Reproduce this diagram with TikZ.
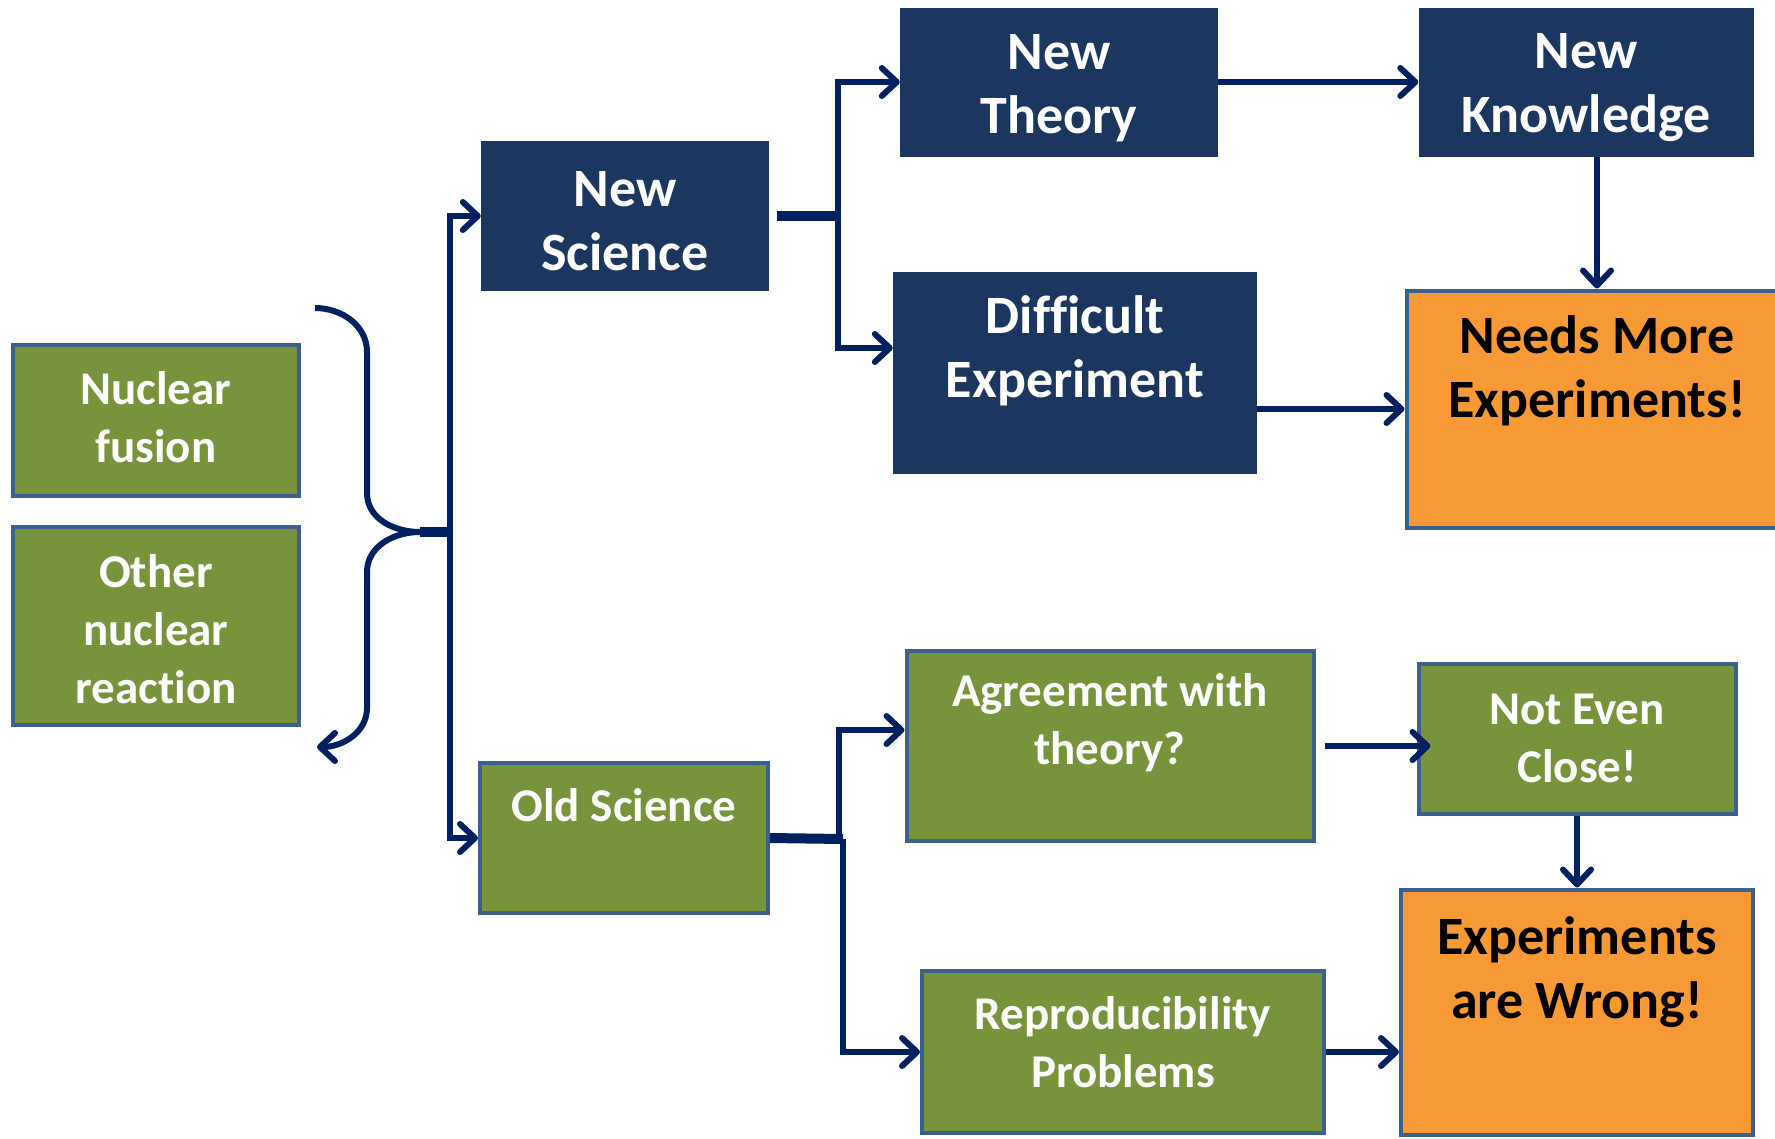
\documentclass[tikz,border=0pt]{standalone}
\usepackage{fontspec}
\setmainfont{Carlito}[Ligatures=NoCommon]
\usetikzlibrary{arrows.meta,positioning}
\definecolor{navy}{HTML}{1B375F}
\definecolor{leaf}{HTML}{77933C}
\definecolor{amber}{HTML}{F79934}
\definecolor{rim}{HTML}{3C5F8C}
\definecolor{ink}{HTML}{002060}
\newcommand{\bigtxt}{\fontsize{54}{64}\selectfont\bfseries}
\newcommand{\smalltxt}{\fontsize{47}{58}\selectfont\bfseries}

\begin{document}
\begin{tikzpicture}[x=1pt,y=-1pt,
navybox/.style={fill=navy,inner sep=0pt,text=white,align=center,font=\bigtxt},
greenbox/.style={fill=leaf,draw=rim,line width=4pt,inner sep=0pt,text=white,align=center,font=\smalltxt},
orangebox/.style={fill=amber,draw=rim,line width=4pt,inner sep=0pt},
wtxt/.style={text=white,align=center,font=\smalltxt},
ntxt/.style={text=white,align=center,font=\bigtxt},
ktxt/.style={text=black,align=center,font=\bigtxt},
line/.style={draw=ink,line width=6pt},
stub/.style={draw=ink,line width=10pt},
arr/.style={line,-{Straight Barb[length=15pt,width=28pt,round]}}]
\useasboundingbox (0,0) rectangle (1775,1138);
% left column
\node[greenbox,minimum width=286,minimum height=151,
  label={[wtxt,yshift=3]center:Nuclear\\fusion}] (fus) at (156,420) {};
\node[greenbox,minimum width=286,minimum height=198,
  label={[wtxt,yshift=-3]center:Other\\nuclear\\reaction}] (oth) at (156,626) {};
% new science branch
\node[navybox,minimum width=288,minimum height=150,
  label={[ntxt,yshift=-5]center:New\\Science}] (newsci) at (625,216) {};
\node[navybox,minimum width=318,minimum height=149,
  label={[ntxt,yshift=-6]center:New\\Theory}] (newth) at (1059,82) {};
\node[navybox,minimum width=335,minimum height=149,
  label={[ntxt,yshift=-6]center:New\\Knowledge}] (newkn) at (1586,82) {};
\node[navybox,minimum width=364,minimum height=202,
  label={[ntxt,yshift=22]center:Difficult\\Experiment}] (diff) at (1075,373) {};
\node[orangebox,minimum width=381,minimum height=237,
  label={[ktxt,yshift=38]center:Needs More\\Experiments!}] (needs) at (1597,409) {};
% old science branch
\node[greenbox,minimum width=288,minimum height=150,
  label={[wtxt,yshift=33]center:Old Science}] (old) at (624,838) {};
\node[greenbox,minimum width=407,minimum height=190,
  label={[wtxt,yshift=23]center:Agreement with\\theory?}] (agree) at (1110,746) {};
\node[greenbox,minimum width=317,minimum height=150,
  label={[wtxt,yshift=1]center:Not Even\\Close!}] (notev) at (1577,739) {};
\node[orangebox,minimum width=352,minimum height=245,
  label={[ktxt,yshift=40]center:Experiments\\are Wrong!}] (wrong) at (1577,1012) {};
\node[greenbox,minimum width=402,minimum height=162,
  label={[wtxt,yshift=10]center:Reproducibility\\Problems}] (repro) at (1123,1052) {};
% brace and trunk
\coordinate (bt) at (315,308);
\coordinate (bb) at (317,747);
\coordinate (bm) at (420,532);
\coordinate (trunk) at (450,532);
\draw[line] (bt) to[out=0,in=90] (367,352) -- (367,493) to[out=-90,in=180] (bm);
\draw[arr] (bm) to[out=180,in=90] (367,572) -- (367,708) to[out=-90,in=0] (bb);
\draw[stub] (bm) -- (trunk);
\draw[arr] (trunk) |- (newsci.west);
\draw[arr] (trunk) |- (old.west);
% new science arrows
\coordinate (nsj) at (838,216);
\draw[stub] ([xshift=8pt]newsci.east) -- ([xshift=2pt]nsj);
\draw[arr] (nsj) |- (newth.west);
\draw[arr] (nsj) |- ([yshift=25pt]diff.west);
\draw[arr] (newth) -- (newkn);
\draw[arr] (newkn.south -| needs) -- (needs.north);
\draw[arr] (diff.east |- needs) -- (needs.west);
% old science arrows
\coordinate (osj) at (843,839);
\draw[stub] (old.east) -- (osj);
\draw[arr] ([xshift=-4pt]osj) |- ([yshift=16pt]agree.west);
\draw[arr] (osj) |- (repro.west);
\draw[arr] ([xshift=9pt]agree.east) -- ([xshift=14pt]notev.west |- agree.east);
\draw[arr] (notev) -- (wrong);
\draw[arr] (repro) -- (repro -| wrong.west);
\end{tikzpicture}
\end{document}
